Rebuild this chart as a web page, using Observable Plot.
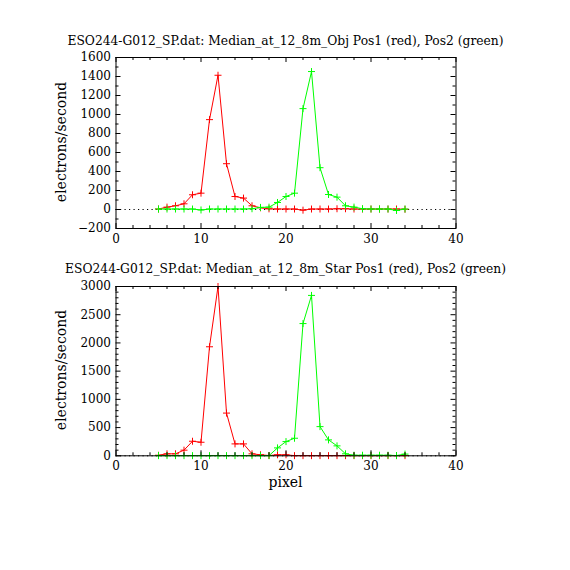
<!DOCTYPE html>
<html><head><meta charset="utf-8">
<script src="https://cdn.jsdelivr.net/npm/d3@7"></script>
<script src="https://cdn.jsdelivr.net/npm/@observablehq/plot@0.6"></script>
<style>
body{margin:0;background:#fff;}
#root{position:relative;width:570px;height:570px;background:#fff;font-family:"DejaVu Serif",serif;color:#000;overflow:hidden;}
#root svg{position:absolute;left:0;}
.t{position:absolute;white-space:nowrap;line-height:1;}
</style></head><body><div id="root"></div>
<script>
// ---- data ----
const pixel = [5,6,7,8,9,10,11,12,13,14,15,16,17,18,19,20,21,22,23,24,25,26,27,28,29,30,31,32,33,34];
const objRed   = [5,25,39,60,155,172,946,1413,482,137,120,39,18,7,5,5,5,-7,5,5,5,8,8,5,5,5,5,5,5,3];
const objGreen = [5,5,5,5,5,-5,5,5,5,5,5,8,22,25,74,137,172,1062,1452,440,158,130,39,25,8,5,5,5,-10,5];
const starRed   = [10,35,35,100,258,240,1932,3000,757,211,211,35,18,5,18,18,3,3,3,3,3,3,3,3,3,3,3,3,3,3];
const starGreen = [3,3,3,3,3,3,3,3,3,3,3,3,3,3,140,252,311,2343,2842,517,282,176,35,10,10,10,10,10,5,30];
const xMajor = [0,10,20,30,40];
const xMinor = [2,4,6,8,12,14,16,18,22,24,26,28,32,34,36,38];
const objYMajor = [-200,0,200,400,600,800,1000,1200,1400,1600];
const objYMinor = [-100,100,300,500,700,900,1100,1300,1500];
const starYMajor = [0,500,1000,1500,2000,2500,3000];
const starYMinor = [100,200,300,400,600,700,800,900,1100,1200,1300,1400,1600,1700,1800,1900,2100,2200,2300,2400,2600,2700,2800,2900];
const titles = [
  "ESO244-G012_SP.dat: Median_at_12_8m_Obj Pos1 (red), Pos2 (green)",
  "ESO244-G012_SP.dat: Median_at_12_8m_Star Pos1 (red), Pos2 (green)"
];
const xLabel = "pixel";
const yLabel = "electrons/second";

// ---- drawing ----
const plus = {draw(ctx, size){const r = Math.sqrt(size/Math.PI); ctx.moveTo(-r,0); ctx.lineTo(r,0); ctx.moveTo(0,-r); ctx.lineTo(0,r);}};
const fmt = d => d < 0 ? "\u2212" + (-d) : String(d);

function panel({red, green, yDomain, yMajor, yMinor, height, marginTop, marginBottom}) {
  const W = 570, mL = 115.5, mR = 114.5;
  const iw = W - mL - mR, ih = height - marginTop - marginBottom;
  const rd = pixel.map((x,i)=>({x, y: red[i]}));
  const gd = pixel.map((x,i)=>({x, y: green[i]}));
  const big = 5, small = 3;
  return Plot.plot({
    width: W, height, marginLeft: mL, marginRight: mR, marginTop, marginBottom,
    style: {fontFamily: "DejaVu Serif", fontSize: "12px", background: "transparent", color: "#000", overflow: "visible"},
    x: {domain: [0,40]}, y: {domain: yDomain},
    marks: [
      Plot.ruleY([0], {stroke: "#000", strokeDasharray: "1.2,3.3"}),
      Plot.line(rd, {x: "x", y: "y", stroke: "#ff0000", strokeWidth: 1}),
      Plot.dot(rd, {x: "x", y: "y", symbol: plus, r: 3.5, stroke: "#ff0000", fill: "none", strokeWidth: 1}),
      Plot.line(gd, {x: "x", y: "y", stroke: "#00ff00", strokeWidth: 1}),
      Plot.dot(gd, {x: "x", y: "y", symbol: plus, r: 3.5, stroke: "#00ff00", fill: "none", strokeWidth: 1}),
      Plot.frame({stroke: "#000"}),
      Plot.tickX(xMajor, {x: d=>d, insetTop: ih - big, stroke: "#000"}),
      Plot.tickX(xMajor, {x: d=>d, insetBottom: ih - big, stroke: "#000"}),
      Plot.tickX(xMinor, {x: d=>d, insetTop: ih - small, stroke: "#000"}),
      Plot.tickX(xMinor, {x: d=>d, insetBottom: ih - small, stroke: "#000"}),
      Plot.tickY(yMajor, {y: d=>d, insetRight: iw - big, stroke: "#000"}),
      Plot.tickY(yMajor, {y: d=>d, insetLeft: iw - big, stroke: "#000"}),
      Plot.tickY(yMinor, {y: d=>d, insetRight: iw - small, stroke: "#000"}),
      Plot.tickY(yMinor, {y: d=>d, insetLeft: iw - small, stroke: "#000"}),
      Plot.axisX({anchor: "bottom", ticks: xMajor, tickSize: 0, tickPadding: 6, tickFormat: fmt, label: null, stroke: "#000", strokeWidth: 0.35}),
      Plot.axisY({anchor: "left", ticks: yMajor, tickSize: 0, tickPadding: 5, tickFormat: fmt, label: null, stroke: "#000", strokeWidth: 0.35})
    ]
  });
}

const root = document.getElementById("root");
const p1 = panel({red: objRed, green: objGreen, yDomain: [-200,1600], yMajor: objYMajor, yMinor: objYMinor, height: 250, marginTop: 57, marginBottom: 22});
p1.style.top = "0px";
root.appendChild(p1);
const p2 = panel({red: starRed, green: starGreen, yDomain: [0,3000], yMajor: starYMajor, yMinor: starYMinor, height: 250, marginTop: 26, marginBottom: 54.7});
p2.style.top = "260px";
root.appendChild(p2);

function label(text, css) {
  const d = document.createElement("div");
  d.className = "t";
  d.textContent = text;
  Object.assign(d.style, css);
  root.appendChild(d);
  return d;
}
label(titles[0], {left: "285.5px", top: "35px", fontSize: "12.3px", transform: "translateX(-50%)"});
label(titles[1], {left: "285.5px", top: "263px", fontSize: "12.3px", transform: "translateX(-50%)"});
label(yLabel, {left: "61px", top: "142px", fontSize: "14px", transform: "translate(-50%,-50%) rotate(-90deg)"});
label(yLabel, {left: "61px", top: "370px", fontSize: "14px", transform: "translate(-50%,-50%) rotate(-90deg)"});
label(xLabel, {left: "285.5px", top: "475px", fontSize: "14px", transform: "translateX(-50%)"});
</script></body></html>
